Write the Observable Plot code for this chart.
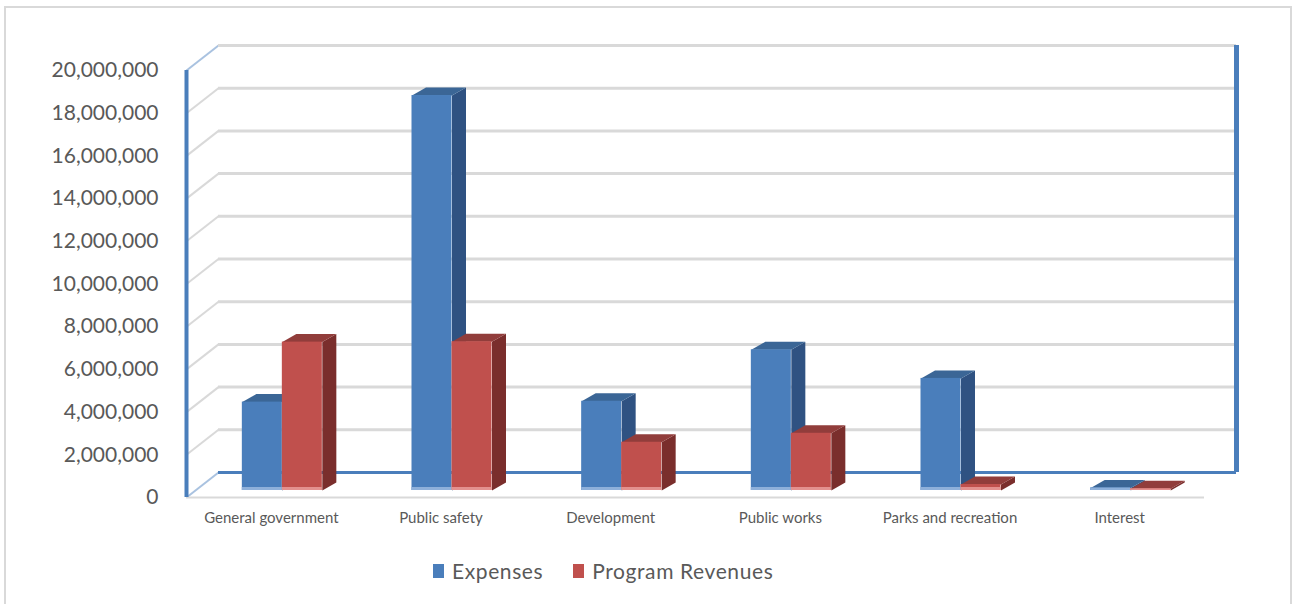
<!DOCTYPE html>
<html>
<head>
<meta charset="utf-8">
<script src="https://cdn.jsdelivr.net/npm/d3@7"></script>
<script src="https://cdn.jsdelivr.net/npm/@observablehq/plot@0.6"></script>
<style>
  html, body { margin: 0; padding: 0; background: #fff; }
  body { width: 1298px; height: 604px; position: relative; overflow: hidden; font-family: Lato, "Open Sans", sans-serif; }
  #frame { position: absolute; left: 4px; top: 6px; width: 1288px; height: 620px; border: 2px solid #D9D9D9; box-sizing: border-box; }
  #chart { position: absolute; left: 0; top: 0; }
  #legend { position: absolute; top: 558px; left: 433px; display: flex; font-size: 21px; color: #595959; letter-spacing: 0.6px; }
  .item { display: flex; align-items: center; margin-right: 30px; }
  .sw { width: 11px; height: 14px; margin-right: 8px; display: inline-block; }
</style>
</head>
<body>
<div id="frame"></div>
<div id="chart"></div>
<div id="legend"></div>
<script>
// ---- data ----
const categories = ["General government", "Public safety", "Development", "Public works", "Parks and recreation", "Interest"];
const expenses = [4140000, 18500000, 4180000, 6590000, 5250000, 120000];
const programRevenues = [6950000, 6970000, 2260000, 2680000, 280000, 80000];
const seriesNames = ["Expenses", "Program Revenues"];
const yTicks = [0, 2000000, 4000000, 6000000, 8000000, 10000000, 12000000, 14000000, 16000000, 18000000, 20000000];

// ---- colours ----
const front = ["#4A7EBB", "#C0504D"];
const top_ = ["#3B6696", "#913D3B"];
const side = ["#2F5282", "#7A2E2C"];
const lip = ["#8EB0DA", "#E3908E"];
const blue = "#4A7EBB";
const grid = "#D9D9D9";

// ---- geometry ----
const W = 1298, H = 540;
const mL = 186, mR = 94, mT = 70, mB = 43;
const xDomain = [-0.5, categories.length - 0.5];
const yDomain = [0, 20000000];
const pxX = (W - mL - mR) / (xDomain[1] - xDomain[0]);
const pxY = (H - mT - mB) / (yDomain[1] - yDomain[0]);
const ox = p => p / pxX;      // pixel -> x units
const oy = p => p / pxY;      // pixel -> y units (upwards)

const backDX = 32, backDY = -25;   // depth of floor/back wall
const barDX = 11, barDY = -7;      // bar plane
const depX = ox(14), depY = oy(8); // bar depth
const half = ox(40);               // bar width

const rows = [];
categories.forEach((c, i) => {
  [expenses[i], programRevenues[i]].forEach((v, s) => {
    const x1 = s === 0 ? i - half : i;
    const x2 = s === 0 ? i : i + half;
    rows.push({ i, s, v, x1, x2, id: i + "-" + s });
  });
});

const sides = [], tops = [];
rows.forEach(r => {
  sides.push({ id: r.id, s: r.s, x: r.x2, y: 0 }, { id: r.id, s: r.s, x: r.x2, y: r.v },
             { id: r.id, s: r.s, x: r.x2 + depX, y: r.v + depY }, { id: r.id, s: r.s, x: r.x2 + depX, y: depY });
  tops.push({ id: r.id, s: r.s, x: r.x1, y: r.v }, { id: r.id, s: r.s, x: r.x2, y: r.v },
            { id: r.id, s: r.s, x: r.x2 + depX, y: r.v + depY }, { id: r.id, s: r.s, x: r.x1 + depX, y: r.v + depY });
});

const chart = Plot.plot({
  width: W, height: H,
  marginLeft: mL, marginRight: mR, marginTop: mT, marginBottom: mB,
  x: { domain: xDomain },
  y: { domain: yDomain },
  style: { color: "#595959", fontFamily: "Lato, 'Open Sans', sans-serif", background: "transparent" },
  marks: [
    // left wall diagonals
    Plot.link(yTicks, { x1: xDomain[0], x2: xDomain[0] + ox(backDX), y1: d => d, y2: d => d + oy(-backDY),
      stroke: d => (d === 0 || d === 20000000) ? "#A9C2E0" : grid, strokeWidth: 2 }),
    // back wall gridlines
    Plot.ruleY(yTicks.filter(d => d > 0), { x1: xDomain[0], x2: xDomain[1], dx: backDX, dy: backDY, stroke: grid, strokeWidth: 3 }),
    // back wall blue edges
    Plot.ruleY([0], { x1: xDomain[0], x2: xDomain[1], dx: backDX, dy: backDY, stroke: blue, strokeWidth: 3 }),
    Plot.ruleX([xDomain[1]], { y1: 0, y2: 20000000, dx: backDX, dy: backDY, stroke: blue, strokeWidth: 5 }),
    // front floor edge
    Plot.ruleY([0], { x1: xDomain[0], x2: xDomain[1], stroke: grid, strokeWidth: 2 }),
    // front value axis line
    Plot.ruleX([xDomain[0]], { y1: 0, y2: 20000000, stroke: blue, strokeWidth: 4 }),
    // bars: side faces, top faces, front faces
    Plot.line(sides, { x: "x", y: "y", z: "id", fill: d => side[d.s], stroke: "none", curve: "linear-closed", dx: barDX, dy: barDY }),
    Plot.line(tops, { x: "x", y: "y", z: "id", fill: d => top_[d.s], stroke: "none", curve: "linear-closed", dx: barDX, dy: barDY }),
    Plot.rectY(rows, { x1: "x1", x2: "x2", y1: 0, y2: "v", fill: d => front[d.s], dx: barDX, dy: barDY }),
    Plot.rectY(rows, { x1: "x1", x2: "x2", y1: 0, y2: d => Math.min(d.v, oy(3)), fill: d => lip[d.s], dx: barDX, dy: barDY }),
    // axes
    Plot.axisY(yTicks, { tickFormat: d3.format(","), tickSize: 0, tickPadding: 28, fontSize: 21, label: null }),
    Plot.axisX(d3.range(categories.length), { tickFormat: i => categories[i], tickSize: 0, tickPadding: 15, fontSize: 15, label: null })
  ]
});
document.getElementById("chart").appendChild(chart);

const legend = document.getElementById("legend");
seriesNames.forEach((n, s) => {
  const it = document.createElement("div");
  it.className = "item";
  it.innerHTML = `<span class="sw" style="background:${front[s]}"></span><span>${n}</span>`;
  legend.appendChild(it);
});
</script>
</body>
</html>
